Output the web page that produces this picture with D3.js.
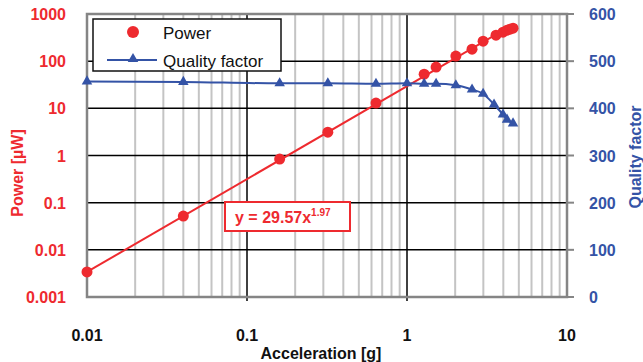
<!DOCTYPE html>
<html>
<head>
<meta charset="utf-8">
<script src="https://cdn.jsdelivr.net/npm/d3@7"></script>
<style>
  body { margin: 0; background: #fff; }
  svg { font-family: "Liberation Sans", Arial, sans-serif; }
</style>
</head>
<body>
<script>
'use strict';

// measured data
let powerAccel = [0.01, 0.04, 0.16, 0.32, 0.64, 1.28, 1.52, 2.02, 2.55, 2.99, 3.6, 3.98, 4.22, 4.4, 4.6];
let powerValues = [0.0034, 0.052, 0.84, 3.13, 12.9, 53, 75, 128, 180, 265, 356, 411, 454, 476, 500];
let qAccel = [0.01, 0.04, 0.16, 0.32, 0.64, 1.0, 1.28, 1.52, 2.02, 2.55, 2.99, 3.5, 3.98, 4.22, 4.6];
let qValues = [457, 456, 453, 453, 452, 453, 452, 452, 449, 440, 431, 408, 387, 376, 368];

// power-law trendline shown on the chart
let fitCoef = 29.57, fitExp = 1.97;
let fitRange = [0.01, 4.6];

let xTicks = [0.01, 0.1, 1, 10];
let xTickLabels = ["0.01", "0.1", "1", "10"];
let pTicks = [0.001, 0.01, 0.1, 1, 10, 100, 1000];
let pTickLabels = ["0.001", "0.01", "0.1", "1", "10", "100", "1000"];
let qTicks = [0, 100, 200, 300, 400, 500, 600];

let red = "#ee2a2f", blue = "#3453a6";

let width = 643, height = 362;
let margin = {top: 14, right: 76, bottom: 65, left: 87};

let svg = d3.select("body").append("svg")
  .attr("width", width)
  .attr("height", height);

let x = d3.scaleLog().domain([0.01, 10]).range([margin.left, width - margin.right]);
let yP = d3.scaleLog().domain([0.001, 1000]).range([height - margin.bottom, margin.top]);
let yQ = d3.scaleLinear().domain([0, 600]).range([height - margin.bottom, margin.top]);

let x0 = x.range()[0], x1 = x.range()[1];
let yb = yP.range()[0], yt = yP.range()[1];

// minor vertical grid
let minor = [];
[0.01, 0.1, 1].forEach(dec => {
  for (let k = 2; k <= 9; k++) minor.push(dec * k);
});
svg.append("g").selectAll("line").data(minor).enter().append("line")
  .attr("x1", d => x(d)).attr("x2", d => x(d))
  .attr("y1", yt).attr("y2", yb)
  .attr("stroke", "#c4c4c4").attr("stroke-width", 2);

// major grid
svg.append("g").selectAll("line").data([0.1, 1]).enter().append("line")
  .attr("x1", d => x(d)).attr("x2", d => x(d))
  .attr("y1", yt).attr("y2", yb + 4)
  .attr("stroke", "#000").attr("stroke-width", 1.5);
svg.append("g").selectAll("line").data([0.01, 0.1, 1, 10, 100]).enter().append("line")
  .attr("x1", x0).attr("x2", x1)
  .attr("y1", d => yP(d)).attr("y2", d => yP(d))
  .attr("stroke", "#000").attr("stroke-width", 1.5);

// frame
svg.append("rect")
  .attr("x", x0).attr("y", yt)
  .attr("width", x1 - x0).attr("height", yb - yt)
  .attr("fill", "none").attr("stroke", "#858585").attr("stroke-width", 2.5);

// right axis ticks
svg.append("g").selectAll("line").data(qTicks).enter().append("line")
  .attr("x1", x1).attr("x2", x1 + 7)
  .attr("y1", d => yQ(d)).attr("y2", d => yQ(d))
  .attr("stroke", "#858585").attr("stroke-width", 2);

// tick labels
svg.append("g").selectAll("text").data(pTicks).enter().append("text")
  .attr("x", x0 - 21).attr("y", d => yP(d) + 6)
  .attr("text-anchor", "end")
  .attr("fill", red).attr("font-size", 16).attr("font-weight", "bold")
  .text((d, i) => pTickLabels[i]);

svg.append("g").selectAll("text").data(qTicks).enter().append("text")
  .attr("x", x1 + 22).attr("y", d => yQ(d) + 6)
  .attr("fill", blue).attr("font-size", 16).attr("font-weight", "bold")
  .text(d => d);

svg.append("g").selectAll("text").data(xTicks).enter().append("text")
  .attr("x", d => x(d)).attr("y", yb + 44)
  .attr("text-anchor", "middle")
  .attr("fill", "#111").attr("font-size", 16).attr("font-weight", "bold")
  .text((d, i) => xTickLabels[i]);

// axis titles
svg.append("text")
  .attr("x", 321).attr("y", 359)
  .attr("text-anchor", "middle")
  .attr("fill", "#111").attr("font-size", 16).attr("font-weight", "bold")
  .text("Acceleration [g]");

svg.append("text")
  .attr("transform", "translate(23,173) rotate(-90)")
  .attr("text-anchor", "middle")
  .attr("fill", red).attr("font-size", 16).attr("font-weight", "bold")
  .text("Power [µW]");

svg.append("text")
  .attr("transform", "translate(641,157) rotate(-90)")
  .attr("text-anchor", "middle")
  .attr("fill", blue).attr("font-size", 16).attr("font-weight", "bold")
  .text("Quality factor");

// trendline
let fit = fitRange.map(a => [a, fitCoef * Math.pow(a, fitExp)]);
svg.append("path")
  .datum(fit)
  .attr("d", d3.line().x(d => x(d[0])).y(d => yP(d[1])))
  .attr("fill", "none").attr("stroke", red).attr("stroke-width", 2);

// quality factor line
let qData = qAccel.map((a, i) => [a, qValues[i]]);
svg.append("path")
  .datum(qData)
  .attr("d", d3.line().x(d => x(d[0])).y(d => yQ(d[1])).curve(d3.curveMonotoneX))
  .attr("fill", "none").attr("stroke", blue).attr("stroke-width", 2);

// power points
svg.append("g").selectAll("circle").data(powerAccel).enter().append("circle")
  .attr("cx", d => x(d))
  .attr("cy", (d, i) => yP(powerValues[i]))
  .attr("r", 5.5)
  .attr("fill", red);

// quality factor markers
let tri = d3.symbol().type(d3.symbolTriangle).size(48);
svg.append("g").selectAll("path").data(qData).enter().append("path")
  .attr("d", tri)
  .attr("transform", d => `translate(${x(d[0])},${yQ(d[1])})`)
  .attr("fill", blue);

// legend
let leg = svg.append("g");
leg.append("rect")
  .attr("x", 93).attr("y", 19).attr("width", 188).attr("height", 52)
  .attr("fill", "#fff").attr("stroke", "#111").attr("stroke-width", 1.5);
leg.append("circle").attr("cx", 133).attr("cy", 32).attr("r", 6).attr("fill", red);
leg.append("text").attr("x", 163).attr("y", 39).attr("font-size", 17).attr("fill", "#111").text("Power");
leg.append("line").attr("x1", 107).attr("x2", 157).attr("y1", 60).attr("y2", 60)
  .attr("stroke", blue).attr("stroke-width", 2);
leg.append("path").attr("d", tri).attr("transform", "translate(133,59)").attr("fill", blue);
leg.append("text").attr("x", 163).attr("y", 67).attr("font-size", 17).attr("fill", "#111").text("Quality factor");

// equation label
let eq = svg.append("g");
eq.append("rect")
  .attr("x", 225).attr("y", 202).attr("width", 125).attr("height", 29)
  .attr("fill", "#fff").attr("stroke", red).attr("stroke-width", 2);
let eqText = eq.append("text")
  .attr("x", 235).attr("y", 223)
  .attr("fill", red).attr("font-size", 16).attr("font-weight", "bold");
eqText.append("tspan").text(`y = ${fitCoef}x`);
eqText.append("tspan").attr("dy", -7).attr("font-size", 10).text(fitExp);
</script>
</body>
</html>
